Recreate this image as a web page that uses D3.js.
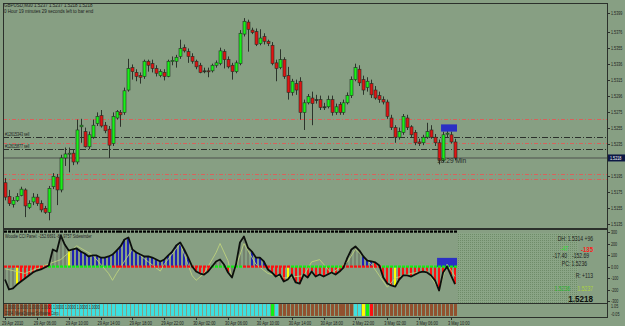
<!DOCTYPE html>
<html>
<head>
<meta charset="utf-8">
<script src="https://cdnjs.cloudflare.com/ajax/libs/d3/7.8.5/d3.min.js"></script>
<style>
  body { margin: 0; background: #879f83; }
  svg { display: block; font-family: "Liberation Sans", Arial, sans-serif; }
</style>
</head>
<body>
<svg id="chart" width="625" height="326"></svg>
<script>
// GBPUSD M30 bars, oldest first
var opens = [
  1.5187,1.5170,1.5160,1.5165,1.5171,1.5178,1.5156,1.5163,1.5169,1.5161,
  1.5155,1.5150,1.5182,1.5194,1.5178,1.5218,1.5223,1.5224,1.5213,1.5257,
  1.5251,1.5232,1.5244,1.5261,1.5271,1.5259,1.5254,1.5236,1.5268,1.5275,
  1.5275,1.5303,1.5331,1.5325,1.5321,1.5320,1.5339,1.5336,1.5330,1.5321,
  1.5325,1.5320,1.5339,1.5339,1.5345,1.5356,1.5351,1.5345,1.5339,1.5334,
  1.5327,1.5327,1.5327,1.5334,1.5336,1.5351,1.5341,1.5334,1.5326,1.5336,
  1.5373,1.5388,1.5378,1.5376,1.5361,1.5370,1.5364,1.5359,1.5337,1.5331,
  1.5341,1.5321,1.5300,1.5311,1.5314,1.5275,1.5287,1.5293,1.5291,1.5291,
  1.5282,1.5282,1.5291,1.5275,1.5285,1.5275,1.5287,1.5296,1.5316,1.5329,
  1.5316,1.5306,1.5311,1.5303,1.5296,1.5291,1.5288,1.5268,1.5256,1.5244,
  1.5250,1.5268,1.5257,1.5250,1.5238,1.5237,1.5244,1.5253,1.5244,1.5237,
  1.5215,1.5248,1.5247,1.5238];
var highs = [
  1.5193,1.5178,1.5169,1.5174,1.5182,1.5180,1.5165,1.5174,1.5173,1.5165,
  1.5158,1.5183,1.5199,1.5198,1.5222,1.5231,1.5231,1.5228,1.5266,1.5267,
  1.5256,1.5251,1.5266,1.5275,1.5278,1.5263,1.5258,1.5275,1.5278,1.5278,
  1.5306,1.5342,1.5335,1.5329,1.5325,1.5341,1.5341,1.5341,1.5334,1.5329,
  1.5329,1.5341,1.5345,1.5347,1.5366,1.5360,1.5355,1.5349,1.5341,1.5337,
  1.5331,1.5331,1.5336,1.5340,1.5356,1.5354,1.5345,1.5337,1.5340,1.5378,
  1.5393,1.5391,1.5381,1.5380,1.5379,1.5374,1.5366,1.5363,1.5341,1.5354,
  1.5344,1.5332,1.5317,1.5316,1.5319,1.5291,1.5298,1.5301,1.5297,1.5296,
  1.5287,1.5296,1.5296,1.5286,1.5288,1.5291,1.5300,1.5320,1.5336,1.5334,
  1.5321,1.5319,1.5316,1.5308,1.5301,1.5295,1.5291,1.5272,1.5259,1.5256,
  1.5273,1.5272,1.5259,1.5253,1.5242,1.5247,1.5262,1.5259,1.5248,1.5241,
  1.5251,1.5253,1.5251,1.5242];
var lows = [
  1.5165,1.5158,1.5156,1.5163,1.5170,1.5144,1.5154,1.5159,1.5158,1.5150,
  1.5148,1.5140,1.5179,1.5159,1.5175,1.5208,1.5200,1.5209,1.5210,1.5237,
  1.5231,1.5229,1.5242,1.5258,1.5256,1.5249,1.5218,1.5233,1.5266,1.5257,
  1.5272,1.5301,1.5316,1.5314,1.5311,1.5317,1.5326,1.5325,1.5320,1.5319,
  1.5315,1.5319,1.5334,1.5331,1.5342,1.5350,1.5337,1.5336,1.5329,1.5324,
  1.5324,1.5319,1.5325,1.5331,1.5334,1.5330,1.5330,1.5316,1.5324,1.5334,
  1.5370,1.5351,1.5373,1.5358,1.5359,1.5360,1.5358,1.5334,1.5314,1.5329,
  1.5317,1.5291,1.5296,1.5297,1.5266,1.5253,1.5285,1.5259,1.5286,1.5278,
  1.5278,1.5280,1.5271,1.5272,1.5272,1.5272,1.5285,1.5293,1.5314,1.5308,
  1.5297,1.5301,1.5293,1.5291,1.5287,1.5285,1.5267,1.5253,1.5237,1.5241,
  1.5247,1.5253,1.5244,1.5234,1.5233,1.5234,1.5242,1.5242,1.5233,1.5210,
  1.5213,1.5244,1.5236,1.5215];
var closes = [
  1.5169,1.5161,1.5165,1.5170,1.5179,1.5158,1.5161,1.5169,1.5161,1.5153,
  1.5150,1.5180,1.5195,1.5178,1.5218,1.5223,1.5224,1.5213,1.5253,1.5259,
  1.5232,1.5247,1.5259,1.5270,1.5258,1.5252,1.5234,1.5270,1.5276,1.5272,
  1.5302,1.5330,1.5326,1.5320,1.5319,1.5339,1.5334,1.5330,1.5324,1.5326,
  1.5320,1.5339,1.5340,1.5344,1.5355,1.5352,1.5345,1.5339,1.5332,1.5325,
  1.5327,1.5326,1.5334,1.5337,1.5352,1.5341,1.5332,1.5326,1.5337,1.5374,
  1.5389,1.5379,1.5375,1.5360,1.5368,1.5364,1.5361,1.5336,1.5330,1.5341,
  1.5320,1.5300,1.5314,1.5303,1.5275,1.5287,1.5295,1.5286,1.5291,1.5281,
  1.5282,1.5291,1.5275,1.5282,1.5275,1.5287,1.5296,1.5316,1.5331,1.5312,
  1.5303,1.5314,1.5297,1.5293,1.5291,1.5288,1.5270,1.5256,1.5244,1.5251,
  1.5270,1.5256,1.5247,1.5237,1.5236,1.5244,1.5251,1.5244,1.5237,1.5215,
  1.5247,1.5249,1.5238,1.5218];

var priceTicks = ['1.5399','1.5376','1.5355','1.5336','1.5315','1.5296','1.5275',
                  '1.5255','1.5235','1.5195','1.5175','1.5155','1.5135'];
var timeLabels = ['29 Apr 2010','29 Apr 06:00','29 Apr 10:00','29 Apr 14:00','29 Apr 18:00',
                  '29 Apr 22:00','30 Apr 02:00','30 Apr 06:00','30 Apr 10:00','30 Apr 14:00',
                  '30 Apr 18:00','2 May 22:00','3 May 02:00','3 May 06:00','3 May 10:00'];
var timeLabelBars = [0,8,16,24,32,40,48,56,64,72,80,88,96,104,112];

var bidPrice = 1.5218;
var redLevels = [1.5267, 1.5237, 1.5198, 1.5192];
var orderLevels = [1.5244, 1.5229];
var orderLabels = ['#12615343 sell', '#12615877 sell'];
var signalBox = { from: 110, to: 113, hi: 1.5260, lo: 1.5251 };

// Woodie CCI sub-window
var cci = [
  -113,-200,-191,-157,-130,-104,-78,-52,-35,-26,
  -9,9,148,130,270,191,139,148,157,130,
  113,87,96,96,78,78,87,104,139,174,
  235,252,148,122,104,87,87,78,61,44,
  61,96,130,183,209,148,78,0,-44,-61,
  -70,-44,0,44,61,17,-52,-96,17,209,
  261,165,130,78,78,44,-26,-52,-87,-70,
  -130,-113,-70,-139,-148,-70,-96,-44,-87,-70,
  -87,-70,-52,-70,-44,-9,78,148,174,139,
  87,52,44,35,9,-96,-148,-165,-174,-113,
  -78,-78,-87,-70,-52,-44,-52,-78,-122,-209,
  -52,0,-78,-153];
// turbo CCI, read at a few bars only: [bar, value]
var tcci = [[0,-20],[5,-60],[10,10],[14,60],[18,180],[22,100],[26,-60],[27,-120],[28,-60],
  [32,150],[36,40],[39,-40],[40,20],[44,200],[47,-80],[48,-120],[50,-60],[53,120],[54,200],
  [56,50],[57,-100],[60,200],[63,20],[66,-60],[70,-100],[75,-80],[77,40],[79,60],[82,-60],
  [86,40],[88,150],[92,20],[94,-80],[96,-180],[98,-100],[102,-60],[106,-40],[109,-200],
  [111,20],[113,-87]];
var cciTicks = [300, 200, 100, 0, -100, -200, -300];
var cciBox = { from: 109, to: 113, hi: 75, lo: -5 };
// colour runs per bar: [code, number of bars]
var histRuns = [['n',3],['y',1],['r',7],['n',5],['y',1],['b',31],['r',4],['n',4],['r',1],
  ['n',5],['b',4],['r',5],['y',1],['r',13],['n',5],['b',3],['r',5],['y',1],['r',15]];
var zeroRuns = [['r',11],['g',16],['r',25],['g',8],['r',12],['g',13],['r',10],['g',19]];
var topRuns = [['g',4],['y',1],['g',6],['r',3],['g',34],['y',1],['r',9],['g',8],['y',1],
  ['r',2],['y',1],['g',7],['y',1],['g',6],['r',4],['y',1],['r',5],['y',1],['g',19]];
var stripRuns = [['b',11],['r',1],['c',55],['g',1],['c',1],['b',19],['c',2],['y',1],
  ['g',1],['r',1],['b',21]];
var stripTicks = ['1.05', '-0.05'];

var colors = { r: '#ff1010', g: '#10f010', y: '#ffff00', b: '#2024b4', n: '#75836f',
               c: '#3ee0e0', br: '#91512f' };

function expand(runs) {
  var out = [];
  runs.forEach(function(r) { for (var i = 0; i < r[1]; i++) out.push(r[0]); });
  return out;
}

var svg = d3.select('#chart');
var x = d3.scaleLinear().domain([0, opens.length - 1]).range([5, 455]);
var y = d3.scaleLinear().domain([1.5135, 1.5399]).range([224.3, 13.3]);
var yc = d3.scaleLinear().domain([-300, 300]).range([301, 232]);
var ys = d3.scaleLinear().domain([-0.05, 1.05]).range([316.5, 303.5]);
var bars = d3.range(opens.length);

function label(g, px, py, s, o) {
  o = o || {};
  return g.append('text')
      .attr('transform', 'translate(' + px + ',' + py + ') scale(' + (o.sx || 0.72) + ',1)')
      .attr('font-size', o.size || 5.5)
      .attr('fill', o.fill || '#1c211c')
      .attr('font-weight', o.weight || 'normal')
      .attr('text-anchor', o.anchor || 'start')
      .text(s);
}
function px(v) { return Math.round(v) + 0.5; }

var defs = svg.append('defs');
[['clipMain', 3, 3, 604, 225], ['clipCci', 3, 230, 604, 73], ['clipStrip', 3, 303, 604, 14]]
  .forEach(function(c) {
    defs.append('clipPath').attr('id', c[0]).append('rect')
        .attr('x', c[1]).attr('y', c[2]).attr('width', c[3]).attr('height', c[4]);
  });
var pat = defs.append('pattern').attr('id', 'dots')
    .attr('width', 2).attr('height', 2).attr('patternUnits', 'userSpaceOnUse');
pat.append('rect').attr('width', 2).attr('height', 2).attr('fill', '#8aa586');
pat.append('rect').attr('width', 1).attr('height', 1).attr('fill', '#6f8c69');

// ---------- main window ----------
var main = svg.append('g').attr('clip-path', 'url(#clipMain)');

redLevels.forEach(function(p) {
  main.append('line').attr('x1', 3).attr('x2', 607).attr('y1', px(y(p))).attr('y2', px(y(p)))
      .attr('stroke', '#d7625c').attr('stroke-dasharray', '4,2,1,2');
});
orderLevels.forEach(function(p, i) {
  main.append('line').attr('x1', 3).attr('x2', 607).attr('y1', px(y(p))).attr('y2', px(y(p)))
      .attr('stroke', '#2b302b').attr('stroke-dasharray', '6,2,1,2');
  label(main, 5, y(p) - 1.5, orderLabels[i], { size: 5 });
});
main.append('line').attr('x1', 3).attr('x2', 607).attr('y1', y(bidPrice)).attr('y2', y(bidPrice))
    .attr('stroke', '#6a7868').attr('stroke-width', 2);

var candles = main.append('g');
candles.selectAll('line.wick').data(bars).enter().append('line')
    .attr('class', 'wick')
    .attr('x1', function(k) { return px(x(k)); }).attr('x2', function(k) { return px(x(k)); })
    .attr('y1', function(k) { return y(highs[k]); }).attr('y2', function(k) { return y(lows[k]); })
    .attr('stroke', '#2c332b');
candles.selectAll('rect.body').data(bars).enter().append('rect')
    .attr('class', 'body')
    .attr('x', function(k) { return Math.round(x(k)) - 1; })
    .attr('width', 3)
    .attr('y', function(k) { return y(Math.max(opens[k], closes[k])); })
    .attr('height', function(k) {
      return Math.max(1, Math.abs(y(opens[k]) - y(closes[k])));
    })
    .attr('fill', function(k) {
      if (opens[k] === closes[k]) return '#2c332b';
      return closes[k] > opens[k] ? '#19f019' : '#e01414';
    })
    .attr('stroke', '#243024').attr('stroke-width', 0.6);

main.append('rect')
    .attr('x', x(signalBox.from) - 2).attr('width', x(signalBox.to) - x(signalBox.from) + 4)
    .attr('y', y(signalBox.hi)).attr('height', y(signalBox.lo) - y(signalBox.hi))
    .attr('fill', '#2b2fc4');
label(main, 437, y(bidPrice) + 5.5, '18:29 Min', { size: 7, sx: 0.95, fill: '#262b26' });

label(svg, 4, 6.5, 'GBPUSD,M30  1.5237 1.5237 1.5218 1.5218', { size: 5.6, sx: 0.8 });
label(svg, 4, 12.6, '0 Hour 19 minutes 29 seconds left to bar end', { size: 5.6, sx: 0.8 });

// price axis
priceTicks.forEach(function(t) {
  var py = y(+t);
  svg.append('line').attr('x1', 607).attr('x2', 610).attr('y1', px(py)).attr('y2', px(py))
      .attr('stroke', '#2b302b');
  label(svg, 611, py + 2, t, { size: 5.3, sx: 0.7 });
});
svg.append('rect').attr('x', 607).attr('y', y(bidPrice) - 3.5).attr('width', 18).attr('height', 7)
    .attr('fill', '#0d1845');
label(svg, 610, y(bidPrice) + 2, bidPrice.toFixed(4), { size: 5.3, sx: 0.7, fill: '#ffffff' });

// ---------- Woodie CCI window ----------
var sub = svg.append('g').attr('clip-path', 'url(#clipCci)');
var hist = expand(histRuns), zero = expand(zeroRuns), top = expand(topRuns);

sub.selectAll('rect.hist').data(bars).enter().append('rect')
    .attr('class', 'hist')
    .attr('x', function(k) { return Math.round(x(k)) - 1; })
    .attr('width', 2)
    .attr('y', function(k) { return Math.min(yc(0), yc(cci[k])); })
    .attr('height', function(k) { return Math.abs(yc(cci[k]) - yc(0)); })
    .attr('fill', function(k) { return colors[hist[k]]; });

sub.append('rect')
    .attr('x', x(cciBox.from) - 2).attr('width', x(cciBox.to) - x(cciBox.from) + 4)
    .attr('y', yc(cciBox.hi)).attr('height', yc(cciBox.lo) - yc(cciBox.hi))
    .attr('fill', '#2b2fc4');

sub.append('path').datum(tcci)
    .attr('d', d3.line().x(function(d) { return x(d[0]); }).y(function(d) { return yc(d[1]); }))
    .attr('fill', 'none').attr('stroke', '#c4d87c').attr('stroke-width', 0.8);

sub.selectAll('rect.zero').data(bars).enter().append('rect')
    .attr('class', 'zero')
    .attr('x', function(k) { return Math.round(x(k)) - 1; })
    .attr('width', 3).attr('y', yc(0) - 1).attr('height', 2.2)
    .attr('fill', function(k) { return colors[zero[k]]; });

sub.append('path').datum(cci)
    .attr('d', d3.line().x(function(d, k) { return x(k); }).y(function(d) { return yc(d); }))
    .attr('fill', 'none').attr('stroke', '#0c0f0c').attr('stroke-width', 1.8)
    .attr('stroke-linejoin', 'round');

sub.selectAll('rect.top').data(bars).enter().append('rect')
    .attr('class', 'top')
    .attr('x', function(k) { return Math.round(x(k)) - 1; })
    .attr('width', 3).attr('y', 230.5).attr('height', 2.2)
    .attr('fill', function(k) { return colors[top[k]]; });

label(sub, 5, 237.5, 'Woodie CCI Panel: -152.6691 -86.9757  Sidewinder', { size: 5.3 });

// info panel
sub.append('rect').attr('x', 458).attr('y', 233).attr('width', 120).attr('height', 70)
    .attr('fill', 'url(#dots)');
var info = svg.append('g');
label(info, 593, 241, 'DH: 1.5314 +96', { size: 6.3, sx: 0.8, anchor: 'end' });
label(info, 568, 251, '-47', { size: 6.3, sx: 0.8, anchor: 'end', fill: '#2ee02e' });
label(info, 593, 251.5, '-135', { size: 7.5, sx: 0.8, anchor: 'end', fill: '#ff1a1a', weight: 'bold' });
label(info, 567, 258, '-17.40', { size: 6.3, sx: 0.8, anchor: 'end' });
label(info, 589, 258, '-152.69', { size: 6.3, sx: 0.8, anchor: 'end' });
label(info, 587, 265.5, 'PC: 1.5236', { size: 6.3, sx: 0.8, anchor: 'end' });
label(info, 593, 278, 'R: +113', { size: 6.3, sx: 0.8, anchor: 'end' });
label(info, 570, 291, '1.5236', { size: 6.3, sx: 0.8, anchor: 'end', fill: '#27b52b' });
label(info, 593, 291, '1.5237', { size: 6.3, sx: 0.8, anchor: 'end', fill: '#a9d23c' });
label(info, 593, 301.5, '1.5218', { size: 9.5, sx: 0.85, anchor: 'end', weight: 'bold', fill: '#0c0f0c' });

cciTicks.forEach(function(t) {
  var py = yc(t);
  svg.append('line').attr('x1', 607).attr('x2', 610).attr('y1', px(py)).attr('y2', px(py))
      .attr('stroke', '#2b302b');
  label(svg, 611, py + 2, t === 0 ? '0.00' : String(t), { size: 5.3, sx: 0.7 });
});

// ---------- colour strip window ----------
var strip = svg.append('g').attr('clip-path', 'url(#clipStrip)');
var stripCodes = expand(stripRuns);
strip.selectAll('rect.sb').data(bars).enter().append('rect')
    .attr('class', 'sb')
    .attr('x', function(k) { return Math.round(x(k)) - 1; })
    .attr('width', 3)
    .attr('y', ys(1)).attr('height', ys(0) - ys(1))
    .attr('fill', function(k) {
      var c = stripCodes[k];
      return c === 'b' ? colors.br : colors[c];
    });
label(strip, 5, 309, '1.0000 1.0000 1.0000 1.0000 1.0000 1.0000 1.0000 1.0000', { size: 5, fill: '#2a2f2a' });
label(strip, 5, 315, '2004, MetaQuotes Software Corp.', { size: 5, fill: '#2a2f2a' });
label(svg, 611, ys(1.05) + 4, stripTicks[0], { size: 5.3, sx: 0.7 });
label(svg, 611, ys(-0.05) - 1, stripTicks[1], { size: 5.3, sx: 0.7 });

// ---------- frames ----------
[[3, 3, 604, 225], [3, 229, 604, 74], [3, 303, 604, 14]].forEach(function(f) {
  svg.append('rect').attr('x', f[0] + 0.5).attr('y', f[1] + 0.5)
      .attr('width', f[2]).attr('height', f[3])
      .attr('fill', 'none').attr('stroke', '#2b302b');
});

// time axis
timeLabelBars.forEach(function(b, i) {
  svg.append('line').attr('x1', px(x(b))).attr('x2', px(x(b))).attr('y1', 317).attr('y2', 320)
      .attr('stroke', '#2b302b');
  label(svg, x(b) - 3, 324.5, timeLabels[i], { size: 5.5 });
});
</script>
</body>
</html>
